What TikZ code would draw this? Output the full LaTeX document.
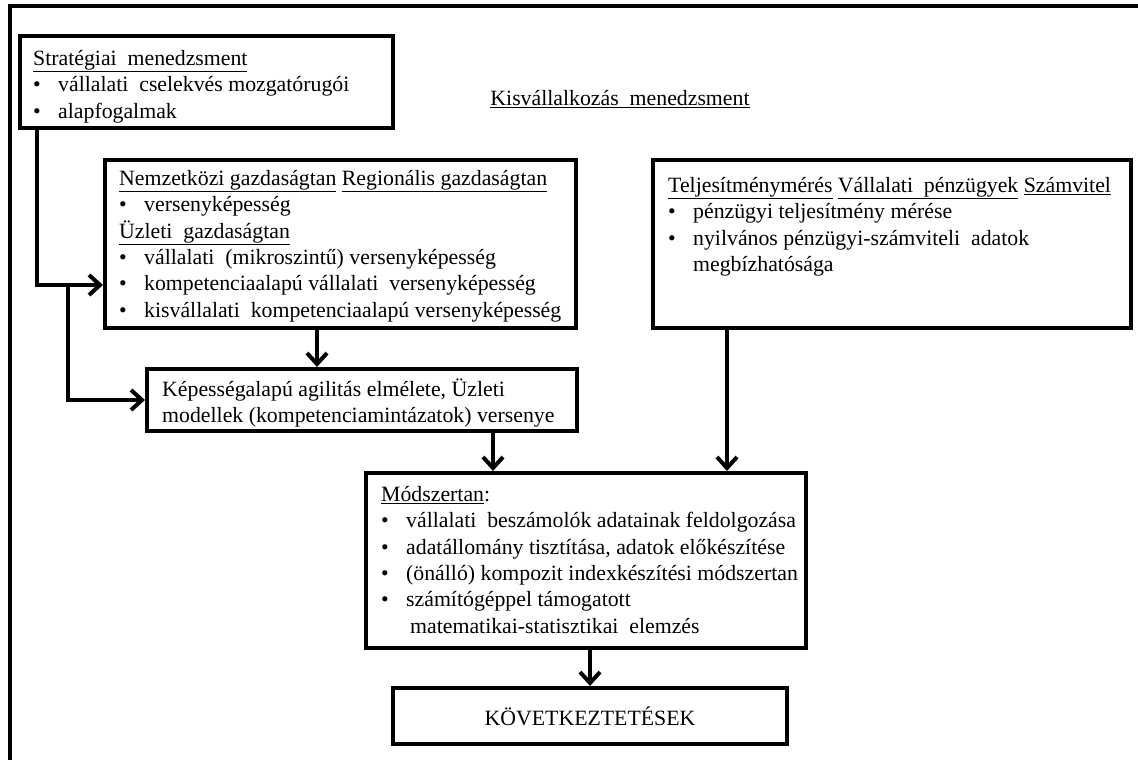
\documentclass[tikz,border=0pt]{standalone}
\usepackage{fontspec}
\setmainfont{Liberation Serif}
\usetikzlibrary{arrows.meta}
% bullet with a fixed hanging indent
\newcommand\itemdot{\makebox[25pt][l]{\textbullet}}
\newcommand\firstline{\rule{0pt}{21pt}}
% a wider word gap
\newcommand\wsp{\hspace{0.5em}}
\begin{document}
\begin{tikzpicture}[x=1pt,y=-1pt,
  box/.style={draw, line width=4pt, rectangle, inner sep=0pt},
  txt/.style={anchor=north west, inner sep=0pt, align=left, font=\fontsize{21.8}{26.4}\selectfont},
  link/.style={line width=4pt},
  arr/.style={link, -{Straight Barb[length=11pt,width=20pt]}}]

\useasboundingbox (0,0) rectangle (1138,760);

% outer frame
\draw[line width=4pt] (10,6) rectangle (1170,800);

% boxes
\node[box, minimum width=373pt, minimum height=92pt]  (strat) at (206.5,82) {};
\node[box, minimum width=471pt, minimum height=168pt] (nemz)  at (340.5,244) {};
\node[box, minimum width=478pt, minimum height=168pt] (telj)  at (892,244) {};
\node[box, minimum width=430pt, minimum height=62pt]  (kep)   at (362,400) {};
\node[box, minimum width=440pt, minimum height=175pt] (modsz) at (586,560.5) {};
\node[box, minimum width=394pt, minimum height=56pt, font=\fontsize{21.8}{26.4}\selectfont] (kov) at (590,716) {KÖVETKEZTETÉSEK};

% title
\node[anchor=base, inner sep=0pt, font=\fontsize{21.8}{26.4}\selectfont] (title) at (620,106) {\underline{Kisvállalkozás\wsp menedzsment}};

% box contents
\node[txt] (stratT) at (33,44) {\firstline\underline{Stratégiai\wsp menedzsment}\\
  \itemdot vállalati\wsp cselekvés mozgatórugói\\
  \itemdot alapfogalmak};

\node[txt] (nemzT) at (119,164) {\firstline\underline{Nemzetközi gazdaságtan} \underline{Regionális gazdaságtan}\\
  \itemdot versenyképesség\\
  \underline{Üzleti\wsp gazdaságtan}\\
  \itemdot vállalati\wsp (mikroszintű) versenyképesség\\
  \itemdot kompetenciaalapú vállalati\wsp versenyképesség\\
  \itemdot kisvállalati\wsp kompetenciaalapú versenyképesség};

\node[txt] (teljT) at (668,171) {\firstline\underline{Teljesítménymérés} \underline{Vállalati\wsp pénzügyek} \underline{Számvitel}\\
  \itemdot pénzügyi teljesítmény mérése\\
  \itemdot nyilvános pénzügyi-számviteli\wsp adatok\\
  \hspace*{25pt}megbízhatósága};

\node[txt] (kepT) at (162,375) {\firstline Képességalapú agilitás elmélete, Üzleti\\
  modellek (kompetenciamintázatok) versenye};

\node[txt] (modszT) at (381,480) {\firstline\underline{Módszertan}:\\
  \itemdot vállalati\wsp beszámolók adatainak feldolgozása\\
  \itemdot adatállomány tisztítása, adatok előkészítése\\
  \itemdot (önálló) kompozit indexkészítési módszertan\\
  \itemdot számítógéppel támogatott\\
  \hspace*{29pt}matematikai-statisztikai\wsp elemzés};

% connectors
\coordinate (j1) at (37,285);
\coordinate (j2) at (68,285);
\coordinate (c3) at (317,0);
\coordinate (c4) at (493,0);
\coordinate (c5) at (727,0);

\draw[arr] (strat.south -| j1) |- (nemz.west |- j1);
\draw[arr] (j2) |- (kep.west);
\draw[arr] (nemz.south -| c3) -- (kep.north -| c3);
\draw[arr] (kep.south -| c4) -- (modsz.north -| c4);
\draw[arr] (telj.south -| c5) -- (modsz.north -| c5);
\draw[arr] (modsz.south -| kov.north) -- (kov.north);
\end{tikzpicture}
\end{document}
